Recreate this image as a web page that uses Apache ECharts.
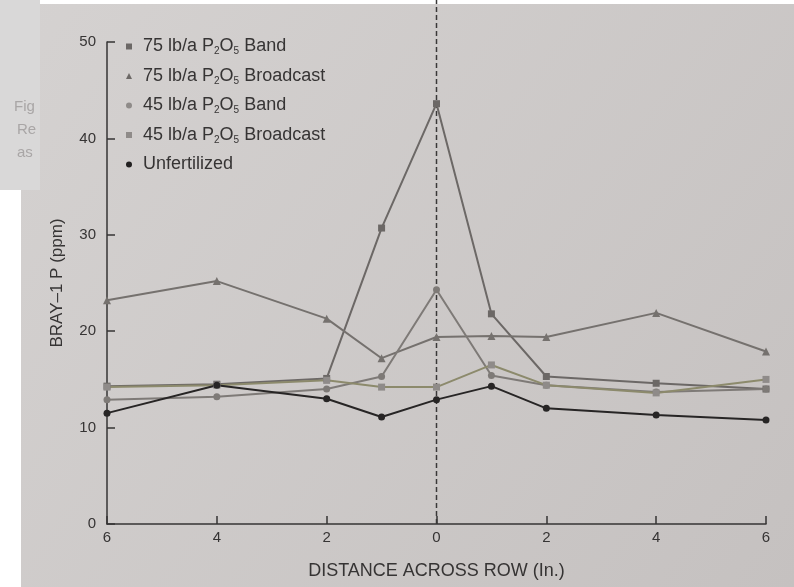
<!DOCTYPE html>
<html>
<head>
<meta charset="utf-8">
<script src="https://cdn.jsdelivr.net/npm/echarts@6/dist/echarts.min.js"></script>
<style>
    html, body { margin: 0; padding: 0; background: #ffffff; }
    #chart { width: 794px; height: 587px; }
</style>
</head>
<body>
<div id="chart"></div>
<script>
// distance across row (in.), left side negative
var distance = [-6, -4, -2, -1, 0, 1, 2, 4, 6];
var yTicks = [0, 10, 20, 30, 40, 50];
var seriesNames = ['75 lb/a P2O5 Band', '75 lb/a P2O5 Broadcast', '45 lb/a P2O5 Band', '45 lb/a P2O5 Broadcast', 'Unfertilized'];
// Bray-1 P (ppm)
var band75 = [14.3, 14.5, 15.1, 30.7, 43.6, 21.8, 15.3, 14.6, 14.0];
var broadcast75 = [23.2, 25.2, 21.3, 17.2, 19.4, 19.5, 19.4, 21.9, 17.9];
var band45 = [12.9, 13.2, 14.0, 15.3, 24.3, 15.4, 14.4, 13.7, 14.0];
var broadcast45 = [14.2, 14.4, 14.9, 14.2, 14.2, 16.5, 14.4, 13.6, 15.0];
var unfertilized = [11.5, 14.4, 13.0, 11.1, 12.9, 14.3, 12.0, 11.3, 10.8];
// dashed line at the row centre
var rowCentre = [[0, 0], [0, 1]];

var font = '"Liberation Sans", Arial, sans-serif';
var ink = '#363434';

function pairs(vals) {
    var out = [];
    for (var i = 0; i < distance.length; i++) {
        out.push([distance[i], vals[i]]);
    }
    return out;
}

function lineSeries(name, vals, color, symbol, symColor) {
    return {
        name: name,
        type: 'line',
        xAxisIndex: 0,
        yAxisIndex: 0,
        data: pairs(vals),
        symbol: symbol,
        symbolSize: symbol == 'triangle' ? 8 : 7,
        itemStyle: { color: symColor || color },
        lineStyle: { color: color, width: 2 },
        z: 3
    };
}

function echart() {
    var myChart = echarts.init(document.getElementById('chart'), null, { renderer: 'canvas' });

    var option = {
        animation: false,
        backgroundColor: {
            type: 'linear', x: 0, y: 0, x2: 1, y2: 1,
            colorStops: [{ offset: 0, color: '#d5d2d1' }, { offset: 1, color: '#c5c1c0' }]
        },
        // white edges and the scrap of the facing page
        graphic: [
            { type: 'rect', left: 40, top: 0, shape: { width: 754, height: 4 }, style: { fill: '#ffffff' }, z: -1 },
            { type: 'rect', left: 0, top: 0, shape: { width: 40, height: 190 }, style: { fill: '#d9d8d8' }, z: -1 },
            { type: 'rect', left: 0, top: 190, shape: { width: 21, height: 397 }, style: { fill: '#ffffff' }, z: -1 },
            { type: 'text', left: 14, top: 99, style: { text: 'Fig', fill: '#a9a6a6', font: '15px ' + font }, z: -1 },
            { type: 'text', left: 17, top: 122, style: { text: 'Re', fill: '#a9a6a6', font: '15px ' + font }, z: -1 },
            { type: 'text', left: 17, top: 145, style: { text: 'as', fill: '#a9a6a6', font: '15px ' + font }, z: -1 }
        ],
        legend: {
            orient: 'vertical',
            left: 121,
            top: 32,
            itemWidth: 6,
            itemHeight: 6,
            itemGap: 10,
            data: [
                { name: seriesNames[0], icon: 'rect', itemStyle: { color: '#6c6866' } },
                { name: seriesNames[1], icon: 'triangle', itemStyle: { color: '#6c6866' } },
                { name: seriesNames[2], icon: 'circle', itemStyle: { color: '#8f8b89' } },
                { name: seriesNames[3], icon: 'rect', itemStyle: { color: '#8f8b89' } },
                { name: seriesNames[4], icon: 'circle', itemStyle: { color: '#222020' } }
            ],
            formatter: function (name) {
                return name.replace('P2O5', 'P{s|2}O{s|5}');
            },
            textStyle: {
                color: ink,
                fontFamily: font,
                fontSize: 18,
                lineHeight: 19,
                padding: [0, 0, 0, 6],
                rich: {
                    s: { fontSize: 10, fontFamily: font, color: ink, padding: [10, 0, 0, 0] }
                }
            }
        },
        grid: [
            { left: 107, right: 28, top: 42, bottom: 63 },
            { left: 107, right: 28, top: 0, bottom: 63 }
        ],
        xAxis: [{
            type: 'value',
            gridIndex: 0,
            min: -6,
            max: 6,
            interval: 2,
            name: 'DISTANCE ACROSS ROW (In.)',
            nameLocation: 'middle',
            nameGap: 38,
            nameTextStyle: { color: ink, fontFamily: font, fontSize: 18 },
            axisLine: { onZero: false, lineStyle: { color: ink, width: 1.5 } },
            axisTick: { inside: true, length: 8, lineStyle: { color: ink, width: 1.5 } },
            axisLabel: {
                color: ink, fontFamily: font, fontSize: 15, margin: 6,
                formatter: function (v) { return Math.abs(v); }
            },
            splitLine: { show: false }
        }, {
            type: 'value', gridIndex: 1, min: -6, max: 6, show: false
        }],
        yAxis: [{
            type: 'value',
            gridIndex: 0,
            min: yTicks[0],
            max: yTicks[yTicks.length - 1],
            interval: 10,
            name: 'BRAY\u20131 P (ppm)',
            nameLocation: 'middle',
            nameGap: 41,
            nameTextStyle: { color: ink, fontFamily: font, fontSize: 17 },
            axisLine: { show: true, onZero: false, lineStyle: { color: ink, width: 1.5 } },
            axisTick: { show: true, inside: true, length: 8, lineStyle: { color: ink, width: 1.5 } },
            axisLabel: { color: ink, fontFamily: font, fontSize: 15, margin: 11 },
            splitLine: { show: false }
        }, {
            type: 'value', gridIndex: 1, min: 0, max: 1, show: false
        }],
        series: [
            lineSeries(seriesNames[0], band75, '#6c6866', 'rect'),
            lineSeries(seriesNames[1], broadcast75, '#75716e', 'triangle'),
            lineSeries(seriesNames[2], band45, '#7e7a77', 'circle'),
            lineSeries(seriesNames[3], broadcast45, '#8c8a6c', 'rect', '#8f8b89'),
            lineSeries(seriesNames[4], unfertilized, '#272525', 'circle'),
            {
                name: 'row centre',
                type: 'line',
                xAxisIndex: 1,
                yAxisIndex: 1,
                data: rowCentre,
                symbol: 'none',
                silent: true,
                lineStyle: { color: '#3a3838', width: 1.5, type: [5, 3] },
                z: 2
            }
        ]
    };

    myChart.setOption(option);
}

echart();
</script>
</body>
</html>
